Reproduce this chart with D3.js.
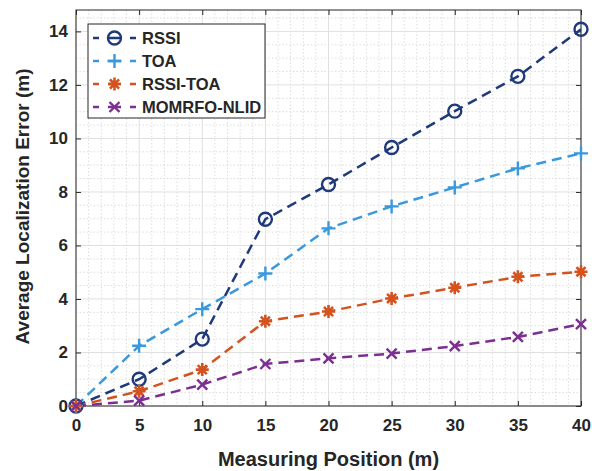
<!DOCTYPE html>
<html><head><meta charset="utf-8">
<script src="https://cdn.jsdelivr.net/npm/d3@7"></script>
<style>body{margin:0;background:#fff}svg{display:block}</style>
</head><body>
<script>
const positions = [0,5,10,15,20,25,30,35,40];
const rssi   = [0,1.0,2.5,6.98,8.28,9.66,11.02,12.32,14.08];
const toa    = [0,2.25,3.62,4.95,6.64,7.46,8.17,8.88,9.44];
const rssiToa= [0,0.55,1.36,3.17,3.53,4.02,4.42,4.83,5.02];
const momrfo = [0,0.2,0.8,1.57,1.78,1.96,2.24,2.58,3.06];
const seriesNames = ["RSSI","TOA","RSSI-TOA","MOMRFO-NLID"];
const xTicks = [0,5,10,15,20,25,30,35,40];
const yTicks = [0,2,4,6,8,10,12,14];

const W=592,H=471;
const m={l:76,r:581,t:10,b:406};
const svg=d3.select("body").append("svg").attr("width",W).attr("height",H);
const x=d3.scaleLinear().domain([0,40]).range([m.l,m.r]);
const y=d3.scaleLinear().domain([0,14.8]).range([m.b,m.t]);

// minor grid
const g=svg.append("g");
d3.range(0,41,1).filter(v=>v%5!==0).forEach(v=>{
  g.append("line").attr("x1",x(v)).attr("x2",x(v)).attr("y1",m.t).attr("y2",m.b)
   .attr("stroke","#d4d4d4").attr("stroke-width",0.8).attr("stroke-dasharray","1.5,2");
});
d3.range(0,14.81,0.5).filter(v=>Math.abs(v%2)>1e-6).forEach(v=>{
  g.append("line").attr("x1",m.l).attr("x2",m.r).attr("y1",y(v)).attr("y2",y(v))
   .attr("stroke","#d4d4d4").attr("stroke-width",0.8).attr("stroke-dasharray","1.5,2");
});
// major grid
xTicks.forEach(v=>g.append("line").attr("x1",x(v)).attr("x2",x(v)).attr("y1",m.t).attr("y2",m.b).attr("stroke","#e0e0e0").attr("stroke-width",1));
yTicks.forEach(v=>g.append("line").attr("x1",m.l).attr("x2",m.r).attr("y1",y(v)).attr("y2",y(v)).attr("stroke","#e0e0e0").attr("stroke-width",1));

// axes
const font="'Liberation Sans', Arial, sans-serif";
const xAxis=svg.append("g").attr("transform",`translate(0,${m.b})`)
  .call(d3.axisBottom(x).tickValues(xTicks).tickSize(-5).tickPadding(13).tickFormat(d3.format("d")));
const xTop=svg.append("g").attr("transform",`translate(0,${m.t})`)
  .call(d3.axisTop(x).tickValues(xTicks).tickSize(-5).tickFormat(""));
const yAxis=svg.append("g").attr("transform",`translate(${m.l},0)`)
  .call(d3.axisLeft(y).tickValues(yTicks).tickSize(-5).tickPadding(8).tickFormat(d3.format("d")));
const yRight=svg.append("g").attr("transform",`translate(${m.r},0)`)
  .call(d3.axisRight(y).tickValues(yTicks).tickSize(-5).tickFormat(""));
[xAxis,xTop,yAxis,yRight].forEach(a=>{
  a.select(".domain").remove();
  a.selectAll(".tick line").attr("stroke","#262626").attr("stroke-width",1);
  a.selectAll("text").attr("font-family",font).attr("font-weight","bold").attr("font-size",17).attr("fill","#262626");
});
svg.append("rect").attr("x",m.l).attr("y",m.t).attr("width",m.r-m.l).attr("height",m.b-m.t)
  .attr("fill","none").attr("stroke","#262626").attr("stroke-width",1);

// labels
svg.append("text").attr("x",(m.l+m.r)/2+0).attr("y",466).attr("text-anchor","middle")
  .attr("font-family",font).attr("font-weight","bold").attr("font-size",20).attr("fill","#262626")
  .text("Measuring Position (m)");
svg.append("text").attr("transform",`translate(29,${(58+355)/2}) rotate(-90)`).attr("text-anchor","middle")
  .attr("font-family",font).attr("font-weight","bold").attr("font-size",19).attr("fill","#262626")
  .text("Average Localization Error (m)");

const colors=["#1f3a7a","#3a98dd","#d2531f","#7d2e91"];
const datasets=[rssi,toa,rssiToa,momrfo];
const markers=["circle","plus","star","x"];

function drawMarker(sel,type,cx,cy,col){
  const gg=sel.append("g").attr("transform",`translate(${cx},${cy})`).attr("stroke",col).attr("fill","none").attr("stroke-width",2.4);
  if(type==="circle"){gg.append("circle").attr("r",6.5);}
  else if(type==="plus"){const s=7;gg.append("path").attr("d",`M${-s},0H${s}M0,${-s}V${s}`);}
  else if(type==="x"){const s=5;gg.append("path").attr("d",`M${-s},${-s}L${s},${s}M${-s},${s}L${s},${-s}`);}
  else if(type==="star"){const s=6.5,d=s*0.7;gg.attr("stroke-width",2.6).append("path").attr("d",`M${-s},0H${s}M0,${-s}V${s}M${-d},${-d}L${d},${d}M${-d},${d}L${d},${-d}`);}
}

const line=d3.line().x((d,i)=>x(positions[i])).y(d=>y(d));
const plot=svg.append("g");
datasets.forEach((ds,k)=>{
  plot.append("path").datum(ds).attr("d",line).attr("fill","none").attr("stroke",colors[k])
    .attr("stroke-width",2.5).attr("stroke-dasharray","10,6");
});
datasets.forEach((ds,k)=>{
  ds.forEach((v,i)=>drawMarker(plot,markers[k],x(positions[i]),y(v),colors[k]));
});

// legend
const lg=svg.append("g");
lg.append("rect").attr("x",88).attr("y",24).attr("width",177).attr("height",94).attr("fill","#fff").attr("stroke","#262626").attr("stroke-width",1);
seriesNames.forEach((n,k)=>{
  const ly=38+k*23;
  lg.append("line").attr("x1",93).attr("x2",136).attr("y1",ly).attr("y2",ly).attr("stroke",colors[k]).attr("stroke-width",2.5).attr("stroke-dasharray","6,9,13,9,6");
  drawMarker(lg,markers[k],114.5,ly,colors[k]);
  lg.append("text").attr("x",142).attr("y",ly+6).attr("font-family",font).attr("font-weight","bold").attr("font-size",16.5).attr("fill","#262626").text(n);
});
</script>
</body></html>
